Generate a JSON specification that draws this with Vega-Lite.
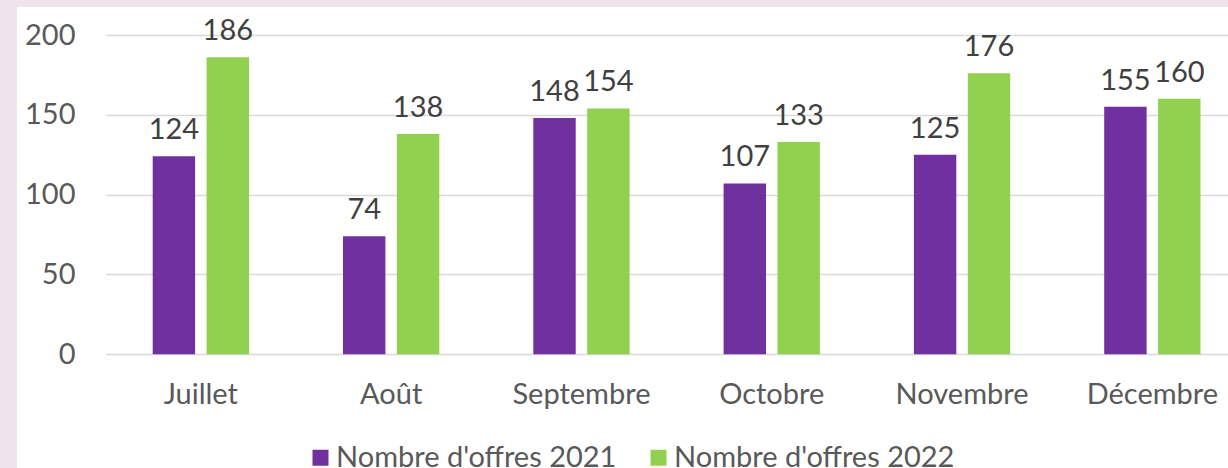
{
  "$schema": "https://vega.github.io/schema/vega-lite/v6.json",
  "width": 1211,
  "height": 461,
  "autosize": {"type": "none"},
  "padding": {"left": 17, "top": 7, "right": 0, "bottom": 0},
  "background": "#efe3ee",
  "config": {
    "view": {"fill": "white", "stroke": null},
    "font": "Lato",
    "text": {"font": "Lato"}
  },
  "data": {
    "values": [
      {"mois": "Juillet", "serie": "Nombre d'offres 2021", "valeur": 124},
      {"mois": "Juillet", "serie": "Nombre d'offres 2022", "valeur": 186},
      {"mois": "Août", "serie": "Nombre d'offres 2021", "valeur": 74},
      {"mois": "Août", "serie": "Nombre d'offres 2022", "valeur": 138},
      {"mois": "Septembre", "serie": "Nombre d'offres 2021", "valeur": 148},
      {"mois": "Septembre", "serie": "Nombre d'offres 2022", "valeur": 154},
      {"mois": "Octobre", "serie": "Nombre d'offres 2021", "valeur": 107},
      {"mois": "Octobre", "serie": "Nombre d'offres 2022", "valeur": 133},
      {"mois": "Novembre", "serie": "Nombre d'offres 2021", "valeur": 125},
      {"mois": "Novembre", "serie": "Nombre d'offres 2022", "valeur": 176},
      {"mois": "Décembre", "serie": "Nombre d'offres 2021", "valeur": 155},
      {"mois": "Décembre", "serie": "Nombre d'offres 2022", "valeur": 160}
    ]
  },
  "encoding": {
    "x": {
      "field": "mois",
      "type": "nominal",
      "sort": ["Juillet", "Août", "Septembre", "Octobre", "Novembre", "Décembre"],
      "scale": {"range": [88.7, 1230.5], "paddingInner": 0.494, "paddingOuter": 0.247},
      "axis": {
        "title": null,
        "orient": "bottom",
        "offset": -114,
        "domain": false,
        "ticks": false,
        "grid": false,
        "labelAngle": 0,
        "labelFont": "Lato",
        "labelFontSize": 29,
        "labelColor": "#595959",
        "labelBaseline": "alphabetic",
        "labelPadding": 49
      }
    },
    "xOffset": {
      "field": "serie",
      "type": "nominal",
      "scale": {"paddingInner": 0.213, "paddingOuter": 0}
    },
    "y": {
      "field": "valeur",
      "type": "quantitative",
      "scale": {"domain": [0, 200], "range": [347.3, 28], "nice": false, "zero": true},
      "axis": {
        "title": null,
        "orient": "left",
        "offset": -88,
        "values": [0, 50, 100, 150, 200],
        "domain": false,
        "ticks": false,
        "grid": true,
        "gridColor": "#d9d9d9",
        "gridWidth": 1.5,
        "labelFont": "Lato",
        "labelFontSize": 29,
        "labelColor": "#595959",
        "labelPadding": 30,
        "labelBaseline": "middle"
      }
    },
    "color": {
      "field": "serie",
      "type": "nominal",
      "scale": {"domain": ["Nombre d'offres 2021", "Nombre d'offres 2022"], "range": ["#7030A0", "#92D050"]},
      "legend": {
        "title": null,
        "orient": "none",
        "legendX": 289,
        "legendY": 436,
        "direction": "horizontal",
        "symbolType": "square",
        "symbolSize": 256,
        "symbolStrokeWidth": 0,
        "labelFont": "Lato",
        "labelFontSize": 29,
        "labelColor": "#595959",
        "labelLimit": 0,
        "labelOffset": 1,
        "columnPadding": 27,
        "padding": 0
      }
    }
  },
  "layer": [
    {"mark": {"type": "bar"}},
    {
      "mark": {"type": "text", "baseline": "alphabetic", "dy": -17, "fontSize": 29, "color": "#404040", "font": "Lato"},
      "encoding": {"text": {"field": "valeur", "type": "quantitative"}, "color": {"value": "#404040"}}
    }
  ]
}
